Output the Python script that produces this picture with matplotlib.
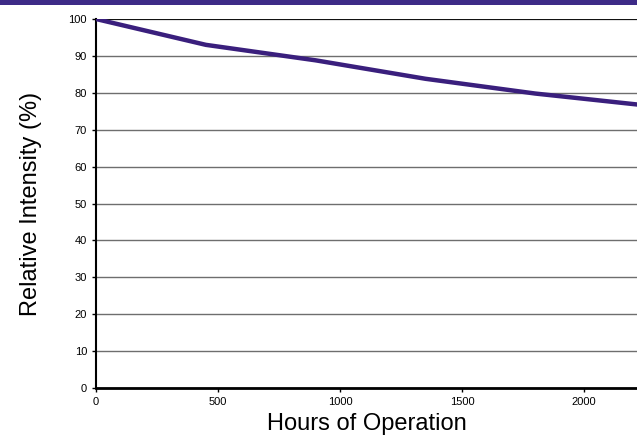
import matplotlib
matplotlib.use("Agg")
import matplotlib.pyplot as plt
from matplotlib.patches import Rectangle

hours = [0, 450, 900, 1350, 1800, 2250]
intensity = [100, 93.0, 88.8, 83.8, 79.8, 76.6]
y_ticks = list(range(0, 101, 10))
x_ticks = [0, 500, 1000, 1500, 2000]

plt.rcParams["font.family"] = ["Liberation Sans", "DejaVu Sans"]

fig = plt.figure(figsize=(6.37, 4.37), dpi=100)
fig.patches.append(Rectangle((0, 1 - 5 / 437), 1, 5 / 437, transform=fig.transFigure,
                             facecolor="#3d2b87", edgecolor="none"))
ax = fig.add_axes([96 / 637, 1 - 388 / 437, 1 - 96 / 637, (388 - 19) / 437])

ax.plot(hours, intensity, color="#3a1f7d", linewidth=3.2, solid_capstyle="butt", zorder=3)

ax.set_xlim(0, 2217)
ax.set_ylim(0, 100)
ax.set_xticks(x_ticks)
ax.set_yticks(y_ticks)
ax.tick_params(labelsize=8, length=3, width=1, colors="black")
ax.yaxis.grid(True, color="#6e6e6e", linewidth=1)
ax.set_axisbelow(True)
for side in ["top", "right"]:
    ax.spines[side].set_visible(False)
ax.spines["left"].set_linewidth(1.5)
ax.spines["bottom"].set_linewidth(2)
ax.axhline(100, color="black", linewidth=1.2, zorder=2)

ax.set_xlabel("Hours of Operation", fontsize=17, labelpad=4)
ax.set_ylabel("Relative Intensity (%)", fontsize=17, labelpad=19)

fig.savefig("out.png", dpi=100)
